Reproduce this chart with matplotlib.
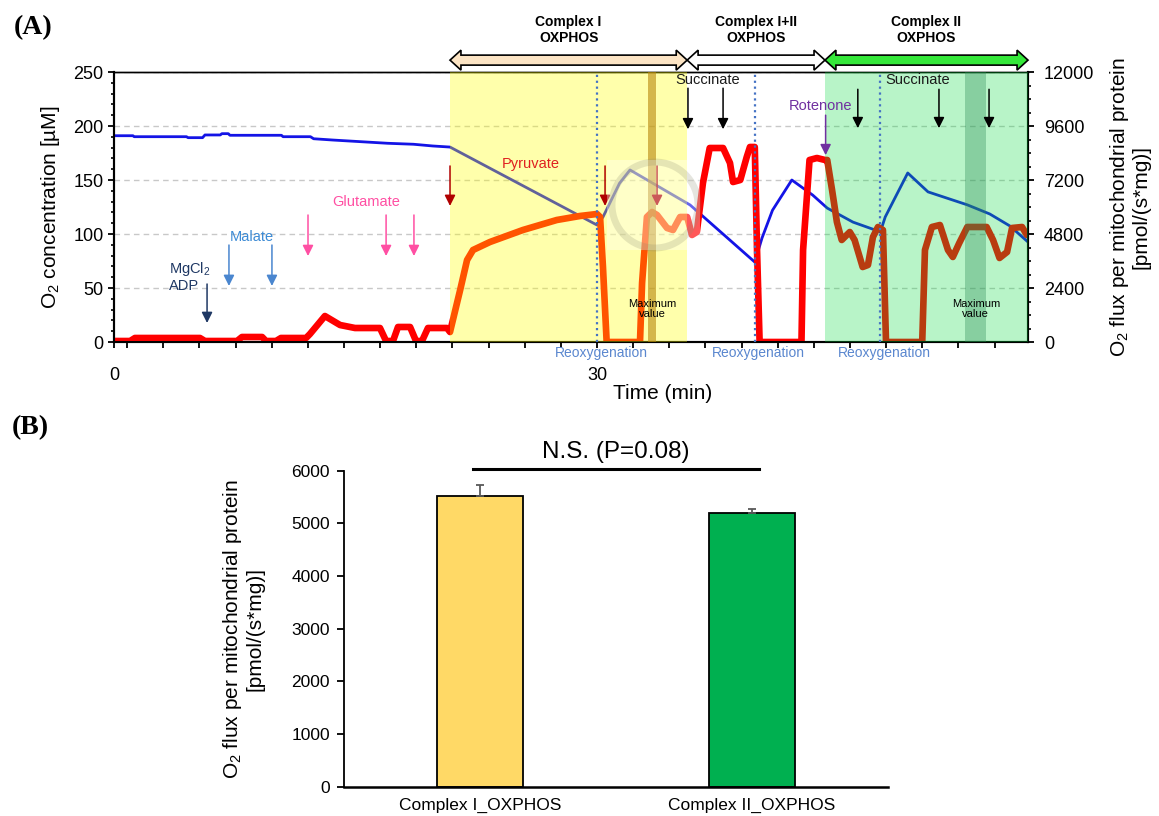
import numpy as np
import matplotlib
matplotlib.use('Agg')
import matplotlib.pyplot as plt
from matplotlib.patches import Polygon, Ellipse, Rectangle
from matplotlib.transforms import blended_transform_factory

plt.rcParams['font.family'] = ['Liberation Sans', 'DejaVu Sans']
plt.rcParams['mathtext.fontset'] = 'custom'
plt.rcParams['mathtext.rm'] = 'Liberation Sans'
plt.rcParams['mathtext.it'] = 'Liberation Sans:italic'
plt.rcParams['mathtext.bf'] = 'Liberation Sans:bold'

# ---- (A) oxygraph trace -------------------------------------------------
# O2 concentration in the chamber (min, uM)
o2_time = [0.0, 1.18, 1.25, 4.5, 4.6, 5.5, 5.65, 6.6, 6.7, 7.1, 7.2, 10.4, 10.5,
           12.2, 12.4, 13.6, 15.3, 17.0, 18.6, 19.8, 20.87, 30.0, 30.37, 31.4,
           32.05, 35.78, 39.8, 40.25, 40.9, 42.1, 43.4, 44.3, 45.9, 47.6, 47.9,
           49.3, 50.56, 53.0, 54.4, 55.65, 56.77]
o2_conc = [191.0, 191.0, 190.1, 190.1, 189.2, 189.2, 191.7, 191.7, 192.9, 192.9,
           191.4, 191.4, 190.1, 190.1, 188.2, 187.0, 185.5, 184.0, 183.1, 181.5,
           180.5, 108.3, 115.7, 147.0, 159.3, 126.9, 74.0, 96.3, 122.0, 150.0,
           136.0, 124.0, 111.0, 102.0, 115.7, 156.5, 139.0, 127.0, 118.5, 107.4,
           92.6]

# O2 flux per mitochondrial protein (min, pmol/(s*mg))
flux_time = [0.0, 1.0, 1.3, 5.34, 5.65, 7.64, 7.95, 9.2, 9.44, 10.06, 10.37, 11.93,
             12.17, 13.1, 14.04, 14.97, 16.52, 16.9, 17.33, 17.64, 18.39, 18.76,
             19.13, 19.5, 20.68, 20.87, 21.5, 21.93, 22.3, 23.35, 25.4, 27.5,
             28.94, 30.0, 30.19, 30.37, 30.6, 32.67, 32.8, 33.1, 33.42, 33.73,
             34.35, 34.72, 35.16, 35.6, 35.9, 36.2, 36.58, 37.0, 37.83, 38.26,
             38.45, 38.9, 39.3, 39.5, 39.8, 39.94, 40.1, 42.7, 42.8, 43.2, 43.66,
             44.16, 44.3, 44.6, 44.9, 45.2, 45.7, 46.0, 46.5, 46.83, 47.14, 47.45,
             47.76, 47.95, 50.2, 50.37, 50.8, 51.3, 51.8, 52.1, 52.5, 53.0, 54.2,
             54.6, 55.0, 55.47, 55.78, 56.4, 56.7]
flux_value = [44, 44, 178, 178, 44, 44, 222, 222, 44, 44, 178, 178, 355, 1155, 755,
              622, 622, 44, 44, 667, 667, 44, 44, 622, 622, 444, 2311, 3644, 4089,
              4444, 4978, 5422, 5600, 5689, 5556, 3333, 0, 0, 2622, 5556, 5778,
              5644, 5067, 4978, 5556, 5556, 4756, 4889, 7067, 8622, 8622, 7956,
              7111, 7200, 8222, 8667, 8667, 4089, 0, 0, 4089, 8089, 8178, 8089,
              8089, 6756, 5333, 4533, 4889, 4533, 3333, 3422, 4667, 5111, 4978, 0,
              0, 4089, 5111, 5200, 4089, 3778, 4400, 5111, 5111, 4533, 3733, 4000,
              5067, 5111, 4756]

phase_edges = [20.87, 35.6, 44.16, 56.77]
phase_names = ['Complex I\nOXPHOS', 'Complex I+II\nOXPHOS', 'Complex II\nOXPHOS']
phase_arrow_colors = ['#FCE4C4', '#FFFFFF', '#35E83A']
reoxygenation = [30.0, 39.8, 47.58]
max_windows = [(33.17, 33.66), (52.88, 54.18)]

# substrate additions: label, text colour, arrow colour, text x, text y, arrow x, arrow top, arrow tip
additions = [
    ('MgCl$_2$\nADP', '#1F3864', '#1F3864', 3.42, 60.5, [5.78], 53.7, 17.6),
    ('Malate', '#3D8BD5', '#4A86CF', 8.57, 97.0, [7.14, 9.81], 89.8, 51.9),
    ('Glutamate', '#FF4FA3', '#FF4FA3', 15.65, 129.6, [12.05, 16.9, 18.63], 117.6, 79.6),
    ('Pyruvate', '#E02020', '#B00000', 25.9, 164.8, [20.87, 30.5, 33.73], 163.0, 126.0),
    ('Succinate', '#1A1A1A', '#000000', 36.9, 242.6, [35.65, 37.83], 235.0, 197.0),
    ('Rotenone', '#7030A0', '#7030A0', 43.9, 218.5, [44.2], 210.0, 173.0),
    ('Succinate', '#1A1A1A', '#000000', 49.9, 242.6, [46.2, 51.24, 54.35], 234.0, 198.0),
]

time_ticks = [0, 30]
time_minor = np.arange(30 - 13 * 2.245, 56.77, 2.245)

# ---- (B) maximum respiration ------------------------------------------------
groups = ['Complex I_OXPHOS', 'Complex II_OXPHOS']
flux_mean = [5520, 5190]
flux_err = [210, 85]
bar_colors = ['#FFD966', '#00B050']

fig = plt.figure(figsize=(11.59, 8.16), dpi=100)
W, H = 1159, 816

ax = fig.add_axes([114 / W, 1 - 342 / H, 914 / W, 270 / H])
ax.plot(o2_time, o2_conc, color='#1414E6', lw=2.0, zorder=2)
ax.set_xlim(0, 56.77)
ax.set_ylim(0, 250)
ax.set_yticks(np.arange(0, 251, 50))
ax.set_yticks(np.arange(0, 251, 10), minor=True)
ax.yaxis.grid(True, ls=(0, (4, 3)), color='#C8C8C8', lw=1)
ax.set_axisbelow(True)
ax.set_xticks(time_ticks)
ax.set_xticklabels([str(t) for t in time_ticks])
ax.set_xticks(time_minor, minor=True)
ax.tick_params(axis='y', which='major', direction='out', length=4.5, width=1.3, labelsize=13, pad=3)
ax.tick_params(axis='y', which='minor', direction='out', length=2.5, width=1.2)
ax.tick_params(axis='x', which='both', direction='out', length=4, width=1.3, labelsize=13, pad=14)
ax.set_ylabel('O$_2$ concentration [\u00b5M]', fontsize=15)
ax.yaxis.set_label_coords(-0.057, 0.5)
ax.set_xlabel('Time (min)', fontsize=15, va='center')
ax.xaxis.set_label_coords(0.6, -0.189)

ax2 = ax.twinx()
ax2.plot(flux_time, flux_value, color='#FF0000', lw=4.8, zorder=2,
         solid_joinstyle='round', solid_capstyle='round')
ax2.set_ylim(0, 12000)
ax2.set_yticks(np.arange(0, 12001, 2400))
ax2.set_yticks(np.arange(0, 12001, 600), minor=True)
ax2.tick_params(axis='y', which='major', direction='out', length=4.5, width=1.3, labelsize=13, pad=7)
ax2.tick_params(axis='y', which='minor', direction='out', length=2.5, width=1.2)
ax2.set_ylabel('O$_2$ flux per mitochondrial protein\n[pmol/(s*mg)]', fontsize=15,
               linespacing=1.05)
ax2.yaxis.set_label_coords(1.0875, 0.5)
for a in (ax, ax2):
    for side in ('left', 'bottom', 'right'):
        a.spines[side].set_linewidth(1.5)
    a.spines['top'].set_linewidth(1.0)

# phase shading sits above the traces so they pick up its tint
ax2.axvspan(phase_edges[0], phase_edges[1], color='#FFFF00', alpha=0.33, lw=0, zorder=3)
ax2.axvspan(phase_edges[2], phase_edges[3], color=(0.0, 0.86, 0.23), alpha=0.28, lw=0, zorder=3)
ax2.axvspan(*max_windows[0], color='#B8860B', alpha=0.6, lw=0, zorder=3)
ax2.axvspan(*max_windows[1], color='#2E8B57', alpha=0.35, lw=0, zorder=3)
for t in reoxygenation:
    ax2.axvline(t, color='#4472C4', ls=':', lw=1.6, zorder=4)

trans = blended_transform_factory(ax2.transData, ax2.transAxes)
for t, lab in zip(reoxygenation, ['Reoxygenation'] * 3):
    ax2.text(t + 0.25, -0.041, lab, transform=trans, ha='center', va='center',
             color='#5A87CF', fontsize=10, clip_on=False)

for lo, hi in max_windows:
    ax2.text((lo + hi) / 2, 30.5, 'Maximum\nvalue', transform=ax.transData,
             ha='center', va='center', fontsize=8, linespacing=1.1, zorder=6)

# double-headed phase arrows above the plot
yc, hh, bh, hl = 1.044, 0.037, 0.0185, 0.68
for i, name in enumerate(phase_names):
    x0, x1 = phase_edges[i], phase_edges[i + 1]
    pts = [(x0, yc), (x0 + hl, yc + hh), (x0 + hl, yc + bh), (x1 - hl, yc + bh),
           (x1 - hl, yc + hh), (x1, yc), (x1 - hl, yc - hh), (x1 - hl, yc - bh),
           (x0 + hl, yc - bh), (x0 + hl, yc - hh)]
    ax2.add_patch(Polygon(pts, closed=True, transform=trans, facecolor=phase_arrow_colors[i],
                          edgecolor='black', lw=1.2, clip_on=False, zorder=5))
    ax2.text((x0 + x1) / 2, 1.156, name, transform=trans, ha='center', va='center',
             fontsize=10, fontweight='bold', linespacing=1.15, clip_on=False)

for label, tcol, acol, tx, ty, xs, top, tip in additions:
    ha = 'left' if label.startswith('MgCl') else 'center'
    ax2.text(tx, ty, label, transform=ax.transData, color=tcol, fontsize=10.5,
             ha=ha, va='center', linespacing=1.05, zorder=6)
    for x in xs:
        ax2.annotate('', xy=(x, tip), xytext=(x, top), xycoords=ax.transData,
                     textcoords=ax.transData,
                     arrowprops=dict(arrowstyle='-|>', color=acol, lw=1.1,
                                     mutation_scale=16, shrinkA=0, shrinkB=0),
                     zorder=6)

# faint cursor ghost left on the trace
fig.add_artist(Rectangle((607 / W, 1 - 250 / H), 93 / W, 90 / H, transform=fig.transFigure,
                         facecolor='white', alpha=0.35, lw=0))
fig.add_artist(Ellipse((655 / W, 1 - 205 / H), 86 / W, 86 / H, transform=fig.transFigure,
                       fill=False, edgecolor='#8C8C6E', lw=5, alpha=0.22))

fig.text(33 / W, 1 - 28 / H, '(A)', family='Liberation Serif', fontweight='bold',
         fontsize=20, ha='center', va='center')

# ---- (B) bar chart ------------------------------------------------------------
axb = fig.add_axes([344 / W, 1 - 786.7 / H, 544 / W, 316 / H])
x_pos = np.arange(len(groups))
axb.bar(x_pos, flux_mean, width=0.315, color=bar_colors, edgecolor='black', lw=1.3, zorder=2)
axb.errorbar(x_pos, flux_mean, yerr=[[0] * len(flux_err), flux_err], fmt='none',
             ecolor='#595959', elinewidth=1.3, capsize=3, capthick=1.3, zorder=3)
axb.set_xlim(-0.5, 1.5)
axb.set_ylim(0, 6000)
axb.set_yticks(np.arange(0, 6001, 1000))
axb.set_xticks(x_pos)
axb.set_xticklabels(groups)
axb.spines['top'].set_visible(False)
axb.spines['right'].set_visible(False)
axb.spines['left'].set_linewidth(1.3)
axb.spines['bottom'].set_linewidth(1.8)
axb.tick_params(axis='y', direction='out', length=5, width=1.3, labelsize=12.5, pad=5)
axb.tick_params(axis='x', length=0, labelsize=12.5, pad=8)
axb.set_ylabel('O$_2$ flux per mitochondrial protein\n[pmol/(s*mg)]', fontsize=15,
               linespacing=1.05)
axb.yaxis.set_label_coords(-0.147, 0.5)

axb.plot([-0.026, 1.024], [6026, 6026], color='black', lw=2.2, clip_on=False)
axb.text(0.5, 6355, 'N.S. (P=0.08)', ha='center', va='center', fontsize=17.5)

fig.text(30 / W, 1 - 428 / H, '(B)', family='Liberation Serif', fontweight='bold',
         fontsize=20, ha='center', va='center')

fig.savefig('out.png', dpi=100)
